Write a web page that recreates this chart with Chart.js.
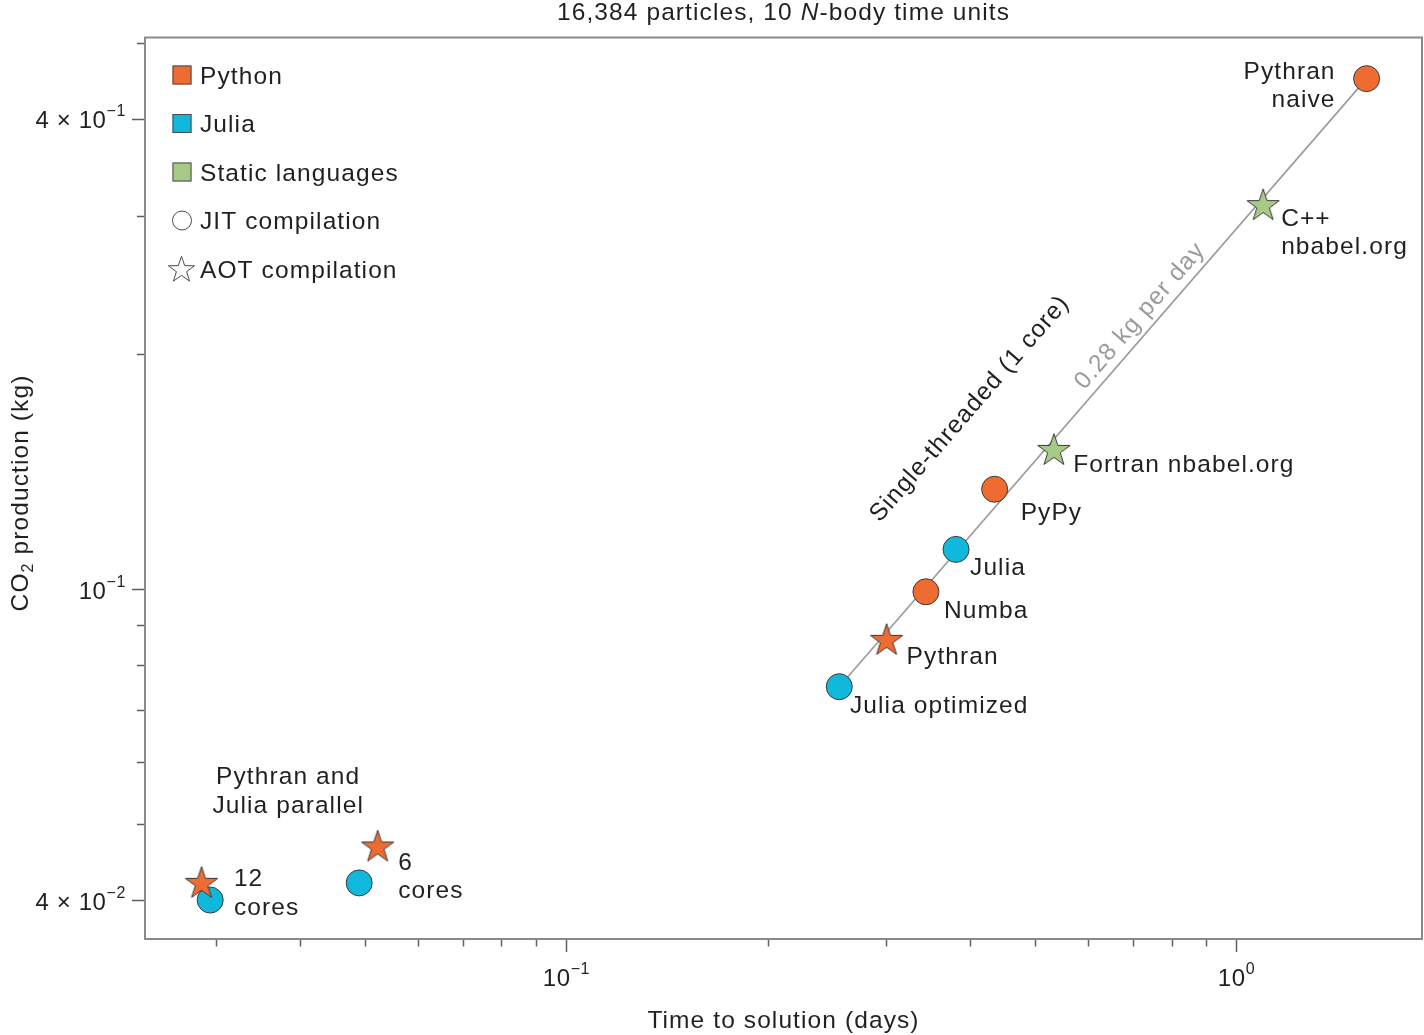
<!DOCTYPE html>
<html><head><meta charset="utf-8">
<script src="https://cdn.jsdelivr.net/npm/chart.js@4.4.0/dist/chart.umd.min.js"></script>
<style>html,body{margin:0;padding:0;background:#fff;overflow:hidden}#wrap{width:1424px;height:1035px;position:relative}</style>
</head><body><div id="wrap"><canvas id="c"></canvas></div>
<script>
// ---------------- data ----------------
const pyCircleNames = ['Pythran naive', 'PyPy', 'Numba'];
const pyCircleX = [1.564, 0.4356, 0.344];
const pyCircleY = [0.450, 0.1342, 0.0992];

const pyStarNames = ['Pythran', 'Pythran 12 cores', 'Pythran 6 cores'];
const pyStarX = [0.3005, 0.02854, 0.05228];
const pyStarY = [0.0861, 0.04208, 0.04684];

const juliaNames = ['Julia', 'Julia optimized', 'Julia 12 cores', 'Julia 6 cores'];
const juliaX = [0.3815, 0.2554, 0.0294, 0.04906];
const juliaY = [0.1124, 0.0750, 0.0400, 0.04207];

const staticNames = ['C++ nbabel.org', 'Fortran nbabel.org'];
const staticX = [1.096, 0.534];
const staticY = [0.310, 0.1507];

const fitX = [0.2554, 1.564];
const fitY = [0.0750, 0.450];

const xTicks = [0.03, 0.04, 0.05, 0.06, 0.07, 0.08, 0.09, 0.1, 0.2, 0.3, 0.4, 0.5, 0.6, 0.7, 0.8, 0.9, 1];
const xMajorTicks = [0.1, 1];
const xMajorExp = ['\u22121', '0'];
const yTicks = [0.04, 0.05, 0.06, 0.07, 0.08, 0.09, 0.1, 0.2, 0.3, 0.4, 0.5];
const yMajorTicks = [0.04, 0.1, 0.4];
const yMajorMant = ['4 \u00d7 ', '', '4 \u00d7 '];
const yMajorExp = ['\u22122', '\u22121', '\u22121'];

const legendNames = ['Python', 'Julia', 'Static languages', 'JIT compilation', 'AOT compilation'];

// ---------------- styles ----------------
const FONT = '"Liberation Sans", Arial, Helvetica, sans-serif';
const TXT = '#231f20';
const ORANGE = '#EE6C32', CYAN = '#10B8DB', GREEN = '#A7CB87', EDGE = '#3a3a3a';
const FS = 24.5, LS = '1.1px';

function makeStar(fill, R, r) {
  const size = Math.ceil(2 * R + 4);
  const c = document.createElement('canvas');
  c.width = c.height = size;
  const g = c.getContext('2d');
  g.translate(size / 2, size / 2 + (R - R * 0.905) / 2);
  starPath(g, 0, 0, R, r);
  g.fillStyle = fill; g.fill();
  g.lineWidth = 1; g.strokeStyle = EDGE; g.stroke();
  return c;
}
function starPath(g, cx, cy, R, r) {
  g.beginPath();
  for (let i = 0; i < 10; i++) {
    const a = -Math.PI / 2 + i * Math.PI / 5;
    const rad = i % 2 ? r : R;
    const px = cx + rad * Math.cos(a), py = cy + rad * Math.sin(a);
    i ? g.lineTo(px, py) : g.moveTo(px, py);
  }
  g.closePath();
}
const starOrange = makeStar(ORANGE, 17, 6.6);
const starGreen = makeStar(GREEN, 17, 6.6);

const toPts = (xs, ys) => xs.map((v, i) => ({ x: v, y: ys[i] }));

const pointLabels = [
  { ds: 2, i: 0, lines: ['Pythran', 'naive'], dx: -31, dy: 0, align: 'right' },
  { ds: 2, i: 1, lines: ['PyPy'], dx: 26, dy: 30.7 },
  { ds: 2, i: 2, lines: ['Numba'], dx: 18, dy: 26 },
  { ds: 0, i: 0, lines: ['Pythran'], dx: 20, dy: 24 },
  { ds: 3, i: 0, lines: ['Julia'], dx: 14, dy: 25.7 },
  { ds: 3, i: 1, lines: ['Julia optimized'], dx: 10.7, dy: 26.6 },
  { ds: 3, i: 2, lines: ['12', 'cores'], dx: 23.7, dy: -14 },
  { ds: 0, i: 2, lines: ['6', 'cores'], dx: 20.5, dy: 23.3 },
  { ds: 1, i: 0, lines: ['C++', 'nbabel.org'], dx: 18, dy: 20.7 },
  { ds: 1, i: 1, lines: ['Fortran nbabel.org'], dx: 19.3, dy: 21.7 },
  { ds: 3, i: 2, lines: ['Pythran and', 'Julia parallel'], dx: 78, dy: -116, align: 'center' }
];
const rotLabels = [
  { ds: 1, i: 1, text: 'Single-threaded (1 core)', dx: -84, dy: -41, color: TXT },
  { ds: 1, i: 0, text: '0.28 kg per day', dx: -123, dy: 111, color: '#9b9b9b' }
];

function setFont(ctx, size, style) {
  ctx.font = (style ? style + ' ' : '') + size + 'px ' + FONT;
}
function supText(ctx, base, sup, x, y, align) {
  ctx.letterSpacing = '0.6px';
  setFont(ctx, 24);
  const wb = ctx.measureText(base).width;
  setFont(ctx, 16);
  const ws = ctx.measureText(sup).width;
  const tot = wb + ws;
  const sx = align === 'right' ? x - tot : align === 'center' ? x - tot / 2 : x;
  ctx.textAlign = 'left';
  setFont(ctx, 24); ctx.fillText(base, sx, y);
  setFont(ctx, 16); ctx.fillText(sup, sx + wb, y - 12);
}

const overlay = {
  id: 'overlay',
  beforeDatasetsDraw(chart) {
    const { ctx, chartArea: a, scales: { x, y } } = chart;
    ctx.save();
    ctx.strokeStyle = '#5f5f5f'; ctx.lineWidth = 1.5;
    ctx.beginPath();
    xTicks.forEach(v => {
      const px = Math.round(x.getPixelForValue(v)) + 0.5;
      const len = xMajorTicks.includes(v) ? 13 : 7.5;
      ctx.moveTo(px, a.bottom); ctx.lineTo(px, a.bottom + len);
    });
    yTicks.forEach(v => {
      const py = Math.round(y.getPixelForValue(v)) + 0.5;
      const len = yMajorTicks.includes(v) ? 13 : 8;
      ctx.moveTo(a.left, py); ctx.lineTo(a.left - len, py);
    });
    ctx.stroke();
    ctx.strokeStyle = '#8a8a8a'; ctx.lineWidth = 2;
    ctx.strokeRect(a.left, a.top, a.right - a.left, a.bottom - a.top);
    ctx.restore();
  },
  afterDatasetsDraw(chart) {
    const { ctx, chartArea: a, scales: { x, y } } = chart;
    ctx.save();
    ctx.fillStyle = TXT;
    ctx.textBaseline = 'alphabetic';
    // tick labels
    xMajorTicks.forEach((v, k) => supText(ctx, '10', xMajorExp[k], x.getPixelForValue(v), a.bottom + 46.5, 'center'));
    yMajorTicks.forEach((v, k) => supText(ctx, yMajorMant[k] + '10', yMajorExp[k], a.left - 19, y.getPixelForValue(v) + 9.5, 'right'));

    ctx.letterSpacing = LS;
    // title
    const cx = (a.left + a.right) / 2;
    const t1 = '16,384 particles, 10 ', t2 = 'N', t3 = '-body time units';
    setFont(ctx, FS); const w1 = ctx.measureText(t1).width, w3 = ctx.measureText(t3).width;
    setFont(ctx, FS, 'italic'); const w2 = ctx.measureText(t2).width;
    let sx = cx - (w1 + w2 + w3) / 2;
    ctx.textAlign = 'left';
    setFont(ctx, FS); ctx.fillText(t1, sx, 20);
    setFont(ctx, FS, 'italic'); ctx.fillText(t2, sx + w1, 20);
    setFont(ctx, FS); ctx.fillText(t3, sx + w1 + w2, 20);
    // x title
    ctx.textAlign = 'center';
    ctx.fillText('Time to solution (days)', cx, a.bottom + 88.5);
    // y title
    ctx.save();
    ctx.translate(28, 493); ctx.rotate(-Math.PI / 2);
    ctx.textAlign = 'left';
    setFont(ctx, FS); const wa = ctx.measureText('CO').width, wc = ctx.measureText(' production (kg)').width;
    setFont(ctx, 16); const wsub = ctx.measureText('2').width;
    const st = -(wa + wsub + wc) / 2;
    setFont(ctx, FS); ctx.fillText('CO', st, 0);
    setFont(ctx, 16); ctx.fillText('2', st + wa, 5);
    setFont(ctx, FS); ctx.fillText(' production (kg)', st + wa + wsub, 0);
    ctx.restore();

    // point labels
    setFont(ctx, FS);
    pointLabels.forEach(L => {
      const el = chart.getDatasetMeta(L.ds).data[L.i];
      ctx.textAlign = L.align || 'left';
      L.lines.forEach((s, k) => ctx.fillText(s, el.x + L.dx, el.y + L.dy + k * 28.5));
    });
    // rotated labels along fit line
    const fm = chart.getDatasetMeta(4).data;
    const ang = Math.atan2(fm[1].y - fm[0].y, fm[1].x - fm[0].x);
    rotLabels.forEach(L => {
      const el = chart.getDatasetMeta(L.ds).data[L.i];
      ctx.save();
      ctx.translate(el.x + L.dx, el.y + L.dy); ctx.rotate(ang);
      ctx.textAlign = 'center'; ctx.textBaseline = 'middle';
      ctx.fillStyle = L.color;
      ctx.fillText(L.text, 0, 0);
      ctx.restore();
    });

    // legend
    const lx = a.left + 27.5, tx = a.left + 55;
    legendNames.forEach((name, k) => {
      const base = 83.5 + k * 48.5, my = base - 8.5;
      ctx.lineWidth = 1; ctx.strokeStyle = '#4a4a4a';
      if (k < 3) {
        ctx.fillStyle = [ORANGE, CYAN, GREEN][k];
        ctx.fillRect(lx, my - 9.5, 19, 19);
        ctx.strokeRect(lx + 0.5, my - 9, 18, 18);
      } else if (k === 3) {
        ctx.beginPath(); ctx.arc(lx + 9.5, my, 9.5, 0, Math.PI * 2);
        ctx.fillStyle = '#fff'; ctx.fill(); ctx.stroke();
      } else {
        starPath(ctx, lx + 9, my + 1, 13.7, 5.4);
        ctx.fillStyle = '#fff'; ctx.fill(); ctx.stroke();
      }
      ctx.fillStyle = TXT; ctx.textAlign = 'left'; ctx.textBaseline = 'alphabetic';
      setFont(ctx, FS);
      ctx.fillText(name, tx, base);
    });
    ctx.restore();
  }
};

new Chart(document.getElementById('c'), {
  type: 'scatter',
  data: {
    datasets: [
      { label: 'Python AOT', data: toPts(pyStarX, pyStarY), pointStyle: starOrange, pointRadius: 17, order: 1 },
      { label: 'Static AOT', data: toPts(staticX, staticY), pointStyle: starGreen, pointRadius: 17, order: 2 },
      { label: 'Python JIT', data: toPts(pyCircleX, pyCircleY), pointStyle: 'circle', pointRadius: 13,
        backgroundColor: ORANGE, borderColor: EDGE, borderWidth: 1, order: 3 },
      { label: 'Julia JIT', data: toPts(juliaX, juliaY), pointStyle: 'circle', pointRadius: 13,
        backgroundColor: CYAN, borderColor: EDGE, borderWidth: 1, order: 4 },
      { label: 'fit', data: toPts(fitX, fitY), showLine: true, pointRadius: 0, borderColor: '#9a9a9a',
        borderWidth: 1.6, order: 5 }
    ]
  },
  options: {
    responsive: true, maintainAspectRatio: false, animation: false, events: [],
    layout: { autoPadding: false, padding: { top: 37.5, right: 2, left: 0, bottom: 0 } },
    plugins: { legend: { display: false }, tooltip: { enabled: false }, title: { display: false } },
    scales: {
      x: { type: 'logarithmic', min: 0.0235, max: 1.892,
           ticks: { display: false }, grid: { display: false }, border: { display: false },
           afterFit: s => { s.height = 96; } },
      y: { type: 'logarithmic', min: 0.03566, max: 0.508,
           ticks: { display: false }, grid: { display: false }, border: { display: false },
           afterFit: s => { s.width = 145; } }
    }
  },
  plugins: [overlay]
});
</script>
</body></html>
